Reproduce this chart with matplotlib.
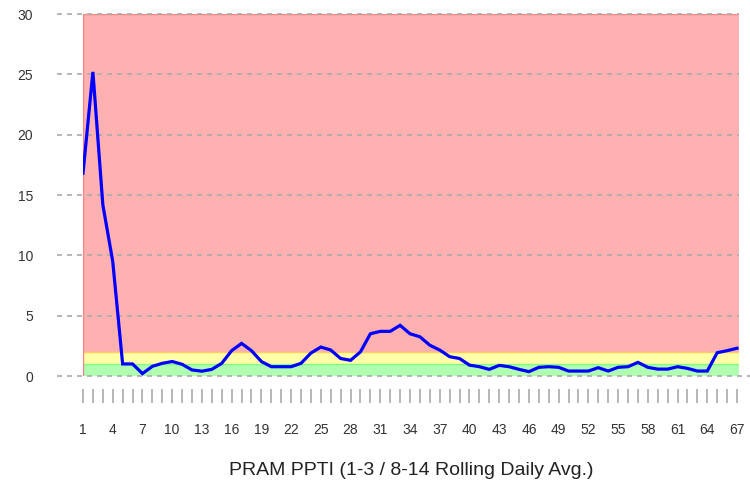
import matplotlib
matplotlib.use('Agg')
import matplotlib.pyplot as plt
import matplotlib.transforms as mtransforms
import numpy as np

# data
days = list(range(1, 68))
ppti = [16.8, 25.2, 14.2, 9.5, 1.0, 1.0, 0.2, 0.8, 1.05, 1.2,
        0.97, 0.5, 0.4, 0.55, 1.05, 2.1, 2.7, 2.1, 1.2, 0.77,
        0.77, 0.77, 1.05, 1.9, 2.4, 2.15, 1.45, 1.3, 2.0, 3.5,
        3.7, 3.7, 4.2, 3.5, 3.25, 2.55, 2.15, 1.6, 1.45, 0.9,
        0.77, 0.55, 0.88, 0.77, 0.55, 0.36, 0.72, 0.77, 0.72, 0.41,
        0.41, 0.41, 0.69, 0.41, 0.72, 0.77, 1.13, 0.72, 0.57, 0.57,
        0.77, 0.63, 0.41, 0.41, 1.93, 2.1, 2.3]
zones = [(0, 1, '#b0ffb0', '#80ff80'),
         (1, 2, '#ffffa8', '#ffcc66'),
         (2, 30, '#ffb0b0', '#ff8080')]
yticks = [0, 5, 10, 15, 20, 25, 30]
label_days = list(range(1, 68, 3))
xlabel = 'PRAM PPTI (1-3 / 8-14 Rolling Daily Avg.)'

plt.rcParams['font.family'] = ['Liberation Sans', 'DejaVu Sans']

W, H = 750, 486
fig = plt.figure(figsize=(W / 100, H / 100), dpi=100)
left, right, top, bottom = 83, 739, 14, 376
ax = fig.add_axes([left / W, 1 - bottom / H, (right - left) / W, (bottom - top) / H])
ax.set_xlim(1, 67.2)
ax.set_ylim(0, 30)
for s in ax.spines.values():
    s.set_visible(False)

# coloured bands
for lo, hi, fc, ec in zones:
    ax.axhspan(lo, hi, facecolor=fc, edgecolor='none', zorder=0)
    ax.axhline(hi, color=ec, lw=1.0, zorder=1)
ax.axvline(1, color='#ff8080', lw=1.0, zorder=1)

# dashed grid reaching left of the plot
axh = bottom - top
axw = right - left
for y in yticks:
    x0 = -(left - 57) / axw
    x1 = 1.0 if y > 0 else (750 - left) / axw
    ax.axhline(y, xmin=x0, xmax=x1, color='#aaaaaa', lw=1.2,
               ls=(0, (3, 3)), clip_on=False, zorder=2)

ax.plot(days, ppti, color='#0000ff', lw=2.3, zorder=5, solid_joinstyle='miter')

# y labels
ax.set_yticks(yticks)
ax.set_yticklabels([str(v) for v in yticks], fontsize=10, color='#333333')
ax.tick_params(axis='y', length=0, pad=(left - 33) * 72 / 100)

# x tick marks drawn as short gray lines below the axis
trans = mtransforms.blended_transform_factory(ax.transData, ax.transAxes)
ax.vlines(days, -(389 - bottom) / axh, -(403 - bottom) / axh, color='#aaaaaa',
          lw=1.2, transform=trans, clip_on=False)
ax.set_xticks(label_days)
ax.set_xticklabels([str(d) for d in label_days], fontsize=10, color='#333333')
ax.tick_params(axis='x', length=0, pad=(430 - bottom - 7) * 72 / 100)

fig.text((left + right) / 2 / W, 1 - 470 / H, xlabel, ha='center', va='center',
         fontsize=14, color='#222222')

fig.savefig('out.png', dpi=100)
